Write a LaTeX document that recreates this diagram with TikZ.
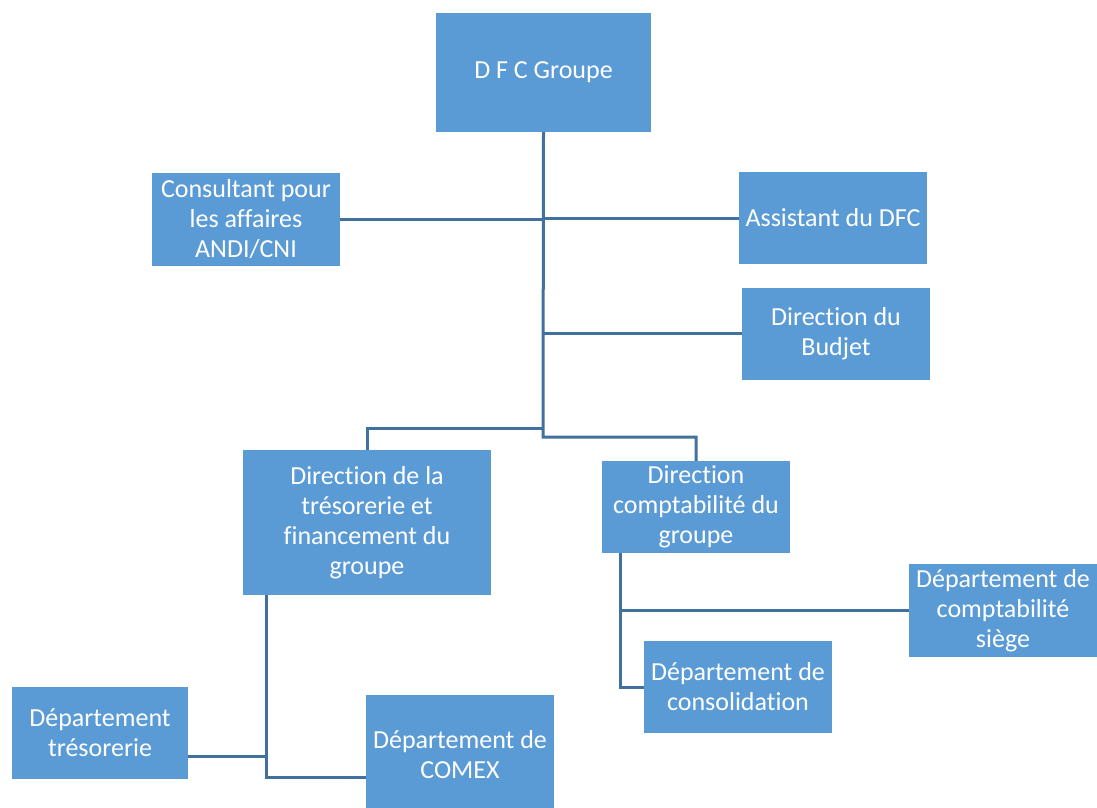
\documentclass[tikz,border=0pt]{standalone}
\usepackage{fontspec}
\setmainfont[RawFeature={-liga}]{Carlito}
\definecolor{boxblue}{HTML}{5B9BD5}
\definecolor{linkblue}{HTML}{41719C}
\tikzset{
	box/.style={fill=boxblue, text=white, align=center, inner sep=0pt,
		minimum width=188pt, minimum height=92pt, font=\fontsize{26}{30}\selectfont},
	link/.style={draw=linkblue, line width=3pt}
}
\begin{document}
\begin{tikzpicture}[x=1pt, y=-1pt]
	\useasboundingbox (0,0) rectangle (1097,807);
% les boites
	\node[box, minimum width=215pt, minimum height=119pt] (dfc) at (543.5,72.5) {D F C Groupe};
	\node[box, minimum height=93pt] (consult) at (246,219.5) {Consultant pour\\les affaires\\ANDI/CNI};
	\node[box] (assist) at (833,218) {Assistant du DFC};
	\node[box] (budget) at (836,333.5) {Direction du\\Budjet};
	\node[box, minimum width=248pt, minimum height=145pt] (treso) at (367,522.5) {Direction de la\\trésorerie et\\financement du\\groupe};
	\node[box] (compta) at (696,507) {Direction\\comptabilité du\\groupe};
	\node[box, minimum height=93pt] (siege) at (1003,610.5) {Département de\\comptabilité\\siège};
	\node[box] (consol) at (738,687) {Département de\\consolidation};
	\node[box, minimum width=176pt] (dtreso) at (100,733) {Département\\trésorerie};
	\node[box, minimum height=120pt] (comex) at (460,755) {Département de\\COMEX};
	% points de jonction
	\coordinate (jl) at (543,428);
	\coordinate (jr) at (543,437);
	\coordinate (tv) at (266,777);
	\coordinate (td) at (266,756);
	\coordinate (cv) at (620,557);
	% les liens
	\draw[link] (dfc.south) -- (jr) -| (compta.north);
	\draw[link] (jl) -| (treso.north);
	\draw[link] (consult.east) -- (consult.east -| dfc.south);
	\draw[link] (assist.west) -- (assist.west -| dfc.south);
	\draw[link] (budget.west) -- (budget.west -| dfc.south);
	\draw[link] (treso.south -| tv) -- (tv) -- (tv -| comex.west);
	\draw[link] (td) -- (td -| dtreso.east);
	\draw[link] (compta.south -| cv) -- (cv |- consol.west) -- (consol.west);
	\draw[link] (cv |- siege.west) -- (siege.west);
\end{tikzpicture}
\end{document}
